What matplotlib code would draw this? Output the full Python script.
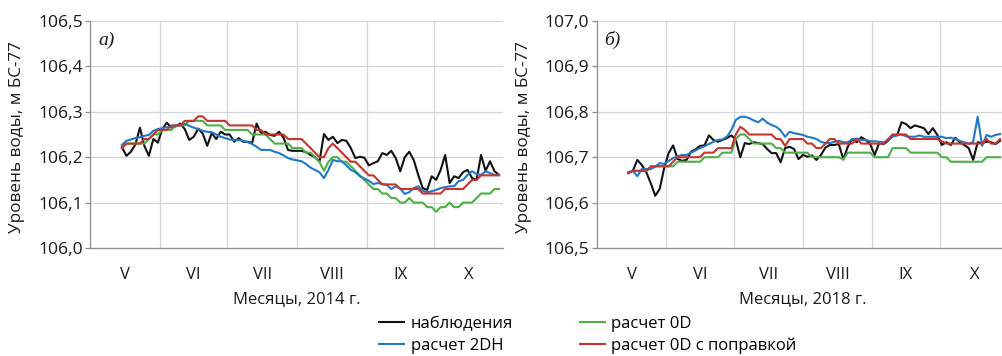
import numpy as np
import matplotlib
matplotlib.use('Agg')
import matplotlib.pyplot as plt
from matplotlib.ticker import FixedLocator, NullFormatter, FuncFormatter

plt.rcParams['font.family'] = ['Open Sans', 'DejaVu Sans']

# дни от 1 мая
days_a = np.arange(14, 183, 2)
days_b = np.arange(14, 181, 2)

month_edges = [0, 31, 61, 92, 123, 153, 184]
month_labels = ['V', 'VI', 'VII', 'VIII', 'IX', 'X']

# а) 2014 г.
obs_a = [106.222, 106.203, 106.212, 106.228, 106.265, 106.225, 106.203, 106.240, 106.232, 106.262,
         106.276, 106.265, 106.268, 106.274, 106.262, 106.238, 106.245, 106.263, 106.252, 106.225,
         106.253, 106.240, 106.256, 106.250, 106.250, 106.234, 106.242, 106.234, 106.234, 106.231,
         106.274, 106.253, 106.256, 106.249, 106.247, 106.256, 106.243, 106.216, 106.214, 106.214,
         106.214, 106.211, 106.205, 106.200, 106.190, 106.251, 106.238, 106.245, 106.231, 106.238,
         106.236, 106.220, 106.198, 106.201, 106.199, 106.182, 106.187, 106.191, 106.209, 106.205,
         106.214, 106.198, 106.169, 106.200, 106.212, 106.194, 106.161, 106.132, 106.128, 106.158,
         106.150, 106.172, 106.205, 106.143, 106.158, 106.154, 106.167, 106.172, 106.154, 106.150,
         106.205, 106.170, 106.191, 106.169, 106.161]
dh_a = [106.227, 106.236, 106.239, 106.242, 106.244, 106.247, 106.249, 106.258, 106.262, 106.264,
        106.266, 106.267, 106.269, 106.271, 106.274, 106.269, 106.265, 106.262, 106.258, 106.256,
        106.255, 106.250, 106.245, 106.242, 106.239, 106.238, 106.238, 106.236, 106.233, 106.229,
        106.223, 106.216, 106.216, 106.216, 106.212, 106.209, 106.204, 106.198, 106.195, 106.193,
        106.191, 106.185, 106.177, 106.172, 106.167, 106.154, 106.172, 106.194, 106.191, 106.191,
        106.182, 106.172, 106.167, 106.158, 106.153, 106.148, 106.141, 106.143, 106.141, 106.139,
        106.130, 106.136, 106.131, 106.119, 106.123, 106.132, 106.136, 106.126, 106.123, 106.125,
        106.128, 106.132, 106.134, 106.136, 106.136, 106.147, 106.150, 106.161, 106.169, 106.163,
        106.161, 106.169, 106.165, 106.161, 106.161]
od_a = [106.22, 106.23, 106.23, 106.23, 106.23, 106.23, 106.24, 106.25, 106.25, 106.26,
        106.26, 106.26, 106.27, 106.27, 106.27, 106.28, 106.28, 106.28, 106.28, 106.27,
        106.27, 106.27, 106.27, 106.26, 106.26, 106.26, 106.26, 106.26, 106.26, 106.25,
        106.25, 106.25, 106.25, 106.24, 106.23, 106.23, 106.23, 106.23, 106.22, 106.22,
        106.22, 106.21, 106.21, 106.20, 106.19, 106.17, 106.19, 106.20, 106.20, 106.19,
        106.19, 106.18, 106.17, 106.16, 106.15, 106.14, 106.13, 106.13, 106.12, 106.12,
        106.11, 106.11, 106.10, 106.10, 106.11, 106.10, 106.10, 106.10, 106.09, 106.09,
        106.08, 106.09, 106.09, 106.10, 106.09, 106.09, 106.10, 106.10, 106.10, 106.11,
        106.12, 106.12, 106.12, 106.13, 106.13]
odc_a = [106.22, 106.23, 106.23, 106.23, 106.23, 106.24, 106.24, 106.25, 106.26, 106.26,
         106.26, 106.27, 106.27, 106.27, 106.28, 106.28, 106.28, 106.29, 106.29, 106.28,
         106.28, 106.28, 106.28, 106.28, 106.27, 106.27, 106.27, 106.27, 106.27, 106.27,
         106.26, 106.26, 106.25, 106.25, 106.25, 106.25, 106.25, 106.24, 106.24, 106.24,
         106.24, 106.23, 106.22, 106.21, 106.20, 106.20, 106.22, 106.23, 106.22, 106.21,
         106.20, 106.19, 106.19, 106.18, 106.17, 106.16, 106.16, 106.15, 106.14, 106.14,
         106.14, 106.14, 106.13, 106.13, 106.13, 106.13, 106.13, 106.12, 106.12, 106.12,
         106.12, 106.12, 106.13, 106.13, 106.13, 106.13, 106.13, 106.14, 106.15, 106.15,
         106.16, 106.16, 106.16, 106.16, 106.16]

# б) 2018 г.
obs_b = [106.665, 106.670, 106.694, 106.683, 106.667, 106.643, 106.615, 106.630, 106.676, 106.709,
         106.726, 106.696, 106.692, 106.694, 106.712, 106.717, 106.725, 106.726, 106.748, 106.738,
         106.734, 106.738, 106.742, 106.748, 106.738, 106.700, 106.731, 106.729, 106.733, 106.731,
         106.729, 106.718, 106.709, 106.709, 106.689, 106.720, 106.723, 106.718, 106.696, 106.705,
         106.701, 106.704, 106.694, 106.705, 106.721, 106.727, 106.727, 106.729, 106.695, 106.723,
         106.740, 106.733, 106.744, 106.738, 106.729, 106.705, 106.731, 106.729, 106.736, 106.748,
         106.748, 106.777, 106.773, 106.764, 106.770, 106.767, 106.764, 106.751, 106.764, 106.749,
         106.727, 106.733, 106.727, 106.743, 106.733, 106.727, 106.720, 106.694, 106.733, 106.731,
         106.734, 106.733, 106.729, 106.736]
dh_b = [106.667, 106.670, 106.658, 106.674, 106.674, 106.674, 106.679, 106.687, 106.685, 106.692,
        106.698, 106.702, 106.705, 106.705, 106.710, 106.715, 106.720, 106.724, 106.729, 106.734,
        106.738, 106.739, 106.745, 106.760, 106.782, 106.789, 106.789, 106.786, 106.781, 106.777,
        106.785, 106.776, 106.771, 106.767, 106.759, 106.745, 106.756, 106.753, 106.751, 106.749,
        106.745, 106.743, 106.740, 106.734, 106.731, 106.731, 106.734, 106.736, 106.733, 106.733,
        106.739, 106.741, 106.738, 106.738, 106.735, 106.735, 106.734, 106.733, 106.737, 106.745,
        106.749, 106.750, 106.746, 106.745, 106.745, 106.748, 106.745, 106.745, 106.745, 106.745,
        106.745, 106.742, 106.743, 106.740, 106.736, 106.733, 106.729, 106.734, 106.789, 106.725,
        106.749, 106.745, 106.749, 106.751]
od_b = [106.665, 106.67, 106.67, 106.67, 106.67, 106.675, 106.68, 106.68, 106.68, 106.68,
        106.68, 106.69, 106.69, 106.69, 106.69, 106.69, 106.69, 106.70, 106.70, 106.70,
        106.70, 106.71, 106.71, 106.71, 106.74, 106.75, 106.75, 106.74, 106.73, 106.73,
        106.73, 106.73, 106.73, 106.72, 106.72, 106.71, 106.71, 106.71, 106.71, 106.71,
        106.71, 106.70, 106.70, 106.70, 106.70, 106.70, 106.70, 106.70, 106.695, 106.71,
        106.71, 106.71, 106.71, 106.71, 106.71, 106.70, 106.70, 106.70, 106.70, 106.72,
        106.72, 106.72, 106.72, 106.71, 106.71, 106.71, 106.71, 106.71, 106.71, 106.71,
        106.70, 106.70, 106.69, 106.69, 106.69, 106.69, 106.69, 106.69, 106.69, 106.69,
        106.70, 106.70, 106.70, 106.70]
odc_b = [106.665, 106.67, 106.67, 106.67, 106.67, 106.68, 106.68, 106.68, 106.68, 106.68,
         106.69, 106.70, 106.70, 106.70, 106.70, 106.70, 106.70, 106.71, 106.71, 106.71,
         106.72, 106.72, 106.72, 106.72, 106.75, 106.767, 106.76, 106.75, 106.75, 106.75,
         106.75, 106.75, 106.75, 106.74, 106.74, 106.725, 106.74, 106.74, 106.74, 106.74,
         106.73, 106.73, 106.72, 106.72, 106.73, 106.74, 106.74, 106.73, 106.73, 106.73,
         106.73, 106.74, 106.73, 106.73, 106.73, 106.73, 106.73, 106.73, 106.74, 106.75,
         106.75, 106.75, 106.75, 106.74, 106.74, 106.74, 106.74, 106.74, 106.74, 106.74,
         106.735, 106.73, 106.73, 106.73, 106.73, 106.73, 106.73, 106.73, 106.73, 106.73,
         106.74, 106.73, 106.73, 106.74]

series_names = ['наблюдения', 'расчет 0D', 'расчет 2DH', 'расчет 0D с поправкой']
colors = ['#111111', '#4cb047', '#1f78c8', '#c8332b']

grid_c = '#d3d7db'
axis_c = '#8f8f8f'
txt_c = '#1a1a1a'
fs = 12

fig = plt.figure(figsize=(10.03, 3.56), dpi=100)
W, H = 1003, 356
ax_a = fig.add_axes([90.5 / W, 1 - 248 / H, 413 / W, 227 / H])
ax_b = fig.add_axes([597 / W, 1 - 248 / H, 412 / W, 227 / H])

panels = [
    (ax_a, days_a, [obs_a, od_a, dh_a, odc_a], 106.0, 'а)', 'Месяцы, 2014 г.'),
    (ax_b, days_b, [obs_b, od_b, dh_b, odc_b], 106.5, 'б)', 'Месяцы, 2018 г.'),
]

lines = []
for ax, days, data, y0, tag, xlab in panels:
    lines = []
    for vals, c, name in zip(data, colors, series_names):
        ln, = ax.plot(days, vals, color=c, lw=1.5, label=name, zorder=3)
        lines.append(ln)

    ax.set_xlim(month_edges[0], month_edges[-1])
    ax.set_ylim(y0, y0 + 0.5)
    yt = np.round(np.arange(y0, y0 + 0.51, 0.1), 1)
    ax.set_yticks(yt)
    ax.yaxis.set_major_formatter(FuncFormatter(lambda v, p: f'{v:.1f}'.replace('.', ',')))

    ax.xaxis.set_major_locator(FixedLocator(month_edges[1:-1]))
    ax.xaxis.set_major_formatter(NullFormatter())
    mids = [(a + b) / 2 for a, b in zip(month_edges[:-1], month_edges[1:])]
    ax.xaxis.set_minor_locator(FixedLocator(mids))
    ax.set_xticklabels(month_labels, minor=True)

    ax.tick_params(axis='x', which='both', length=0, pad=14, labelsize=fs, labelcolor=txt_c)
    ax.tick_params(axis='y', length=3.6, pad=2, color=axis_c, width=0.9, labelsize=12.6, labelcolor=txt_c)

    ax.grid(True, which='major', color=grid_c, lw=0.9)
    ax.set_axisbelow(True)
    for s in ['top', 'right']:
        ax.spines[s].set_visible(False)
    for s in ['left', 'bottom']:
        ax.spines[s].set_color(axis_c)
        ax.spines[s].set_linewidth(0.9)

    ax.set_ylabel('Уровень воды, м БС-77', fontsize=12.3, color=txt_c)
    ax.yaxis.set_label_coords(-0.158, 0.49)
    ax.set_xlabel(xlab, fontsize=fs, color=txt_c)
    ax.xaxis.set_label_coords(0.5, -0.188)
    ax.xaxis.label.set_va('top')

    ax.text(0.018, 0.955, tag, transform=ax.transAxes, fontsize=14, style='italic',
            family='Liberation Serif', color=txt_c, va='top', ha='left')

# легенда: столбцы [наблюдения, 2DH], [0D, 0D с поправкой]
order = [0, 2, 1, 3]
fig.legend([lines[i] for i in order], [series_names[i] for i in order],
           loc='upper left', bbox_to_anchor=(379 / W, 1 - 316 / H), ncol=2,
           frameon=False, fontsize=fs, handlelength=1.5, handletextpad=0.4,
           columnspacing=4.0, labelspacing=0.33, borderpad=0, borderaxespad=0)

fig.savefig('out.png', dpi=100)
